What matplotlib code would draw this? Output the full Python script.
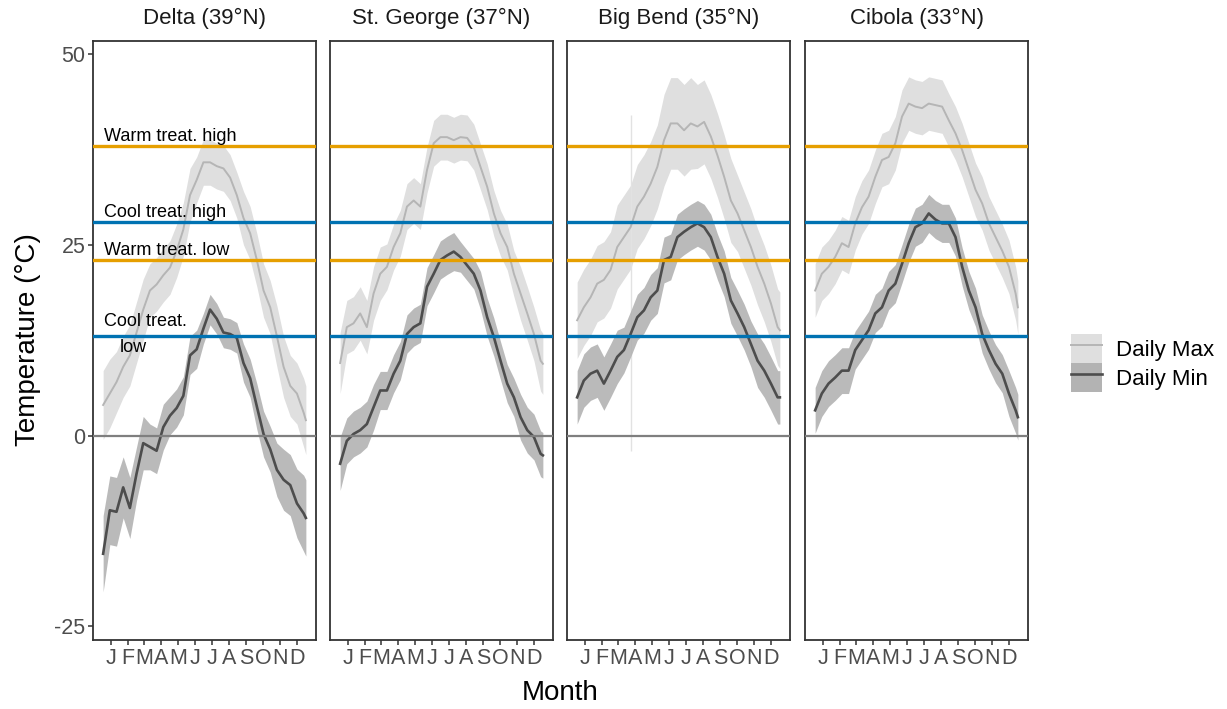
import matplotlib
matplotlib.use("Agg")
import matplotlib.pyplot as plt
from matplotlib.patches import Patch
from matplotlib.lines import Line2D
import numpy as np

plt.rcParams['font.family'] = ['Liberation Sans', 'DejaVu Sans']
plt.rcParams['axes.unicode_minus'] = False

# day of year, every 12 days plus the last day
days = list(range(1, 362, 12)) + [365]

month_days = [15, 46, 74, 105, 135, 166, 196, 227, 258, 288, 319, 349]
month_labels = ["J", "F", "M", "A", "M", "J", "J", "A", "S", "O", "N", "D"]

site_names = ["Delta (39°N)", "St. George (37°N)", "Big Bend (35°N)", "Cibola (33°N)"]

# daily max mean (deg C) and half width of the band
delta_max = [4.0, 5.5, 7.0, 9.0, 10.5, 13.5, 16.5, 19.0, 19.8, 21.0, 22.0, 24.2, 27.0, 31.5, 33.5, 35.8,
             35.8, 35.3, 35.0, 33.8, 31.5, 28.5, 26.5, 23.0, 19.0, 16.8, 13.0, 9.0, 6.5, 5.5, 3.0, 2.0]
delta_max_sd = [4.5, 4.5, 4, 4, 4, 4, 4, 3.5, 3.5, 3.5, 3.5, 3.5, 3.5, 3.5, 3, 3,
                3, 3, 3, 3, 3, 3.5, 3.5, 3.5, 3.5, 3.5, 4, 4, 4, 4, 4.5, 4.5]
delta_min = [-15.5, -9.8, -10.0, -6.8, -9.5, -5.0, -1.0, -1.5, -2.0, 1.1, 2.6, 3.6, 5.2, 10.5, 11.3, 14.0,
             16.5, 15.3, 13.5, 13.3, 12.8, 9.5, 7.5, 3.8, 0.2, -1.8, -4.5, -5.8, -6.5, -8.9, -10.2, -10.8]
delta_min_sd = [5, 4.5, 4.5, 4, 4, 3.5, 3.5, 3, 3, 3, 2.5, 2.5, 2.5, 2.5, 2.5, 2,
                2, 2, 2, 2, 2, 2.5, 2.5, 3, 3, 3, 3.5, 4, 4, 4.5, 5, 5]

stgeorge_max = [9.5, 14.2, 14.7, 16.0, 14.2, 18.6, 21.2, 22.1, 24.7, 26.5, 30.0, 30.8, 30.0, 34.8, 38.3, 39.1,
                39.1, 38.7, 39.1, 39.0, 37.8, 35.2, 32.6, 29.1, 26.5, 24.7, 21.2, 18.6, 16.0, 13.3, 9.8, 9.4]
stgeorge_max_sd = [4, 3.5, 3.5, 3.5, 3.5, 3.5, 3.5, 3, 3, 3, 3, 3, 3, 3, 3, 3,
                   3, 3, 3, 3, 3, 3, 3, 3, 3, 3, 3, 3.5, 3.5, 3.5, 4, 4]
stgeorge_min = [-3.7, -0.7, 0.2, 0.7, 1.5, 3.7, 5.9, 5.9, 8.1, 9.8, 13.3, 14.2, 14.7, 19.5, 21.2, 23.0,
                23.6, 24.1, 23.4, 22.3, 21.2, 19.0, 15.5, 12.9, 9.8, 6.8, 5.0, 2.4, 0.7, -0.2, -2.4, -2.6]
stgeorge_min_sd = [3.5, 3, 3, 3, 3, 3, 2.5, 2.5, 2.5, 2.5, 2.5, 2.5, 2.5, 2.5, 2.5, 2.5,
                   2.5, 2.5, 2, 2, 2, 2.5, 2.5, 2.5, 2.5, 2.5, 2.5, 3, 3, 3, 3, 3]

bigbend_max = [15.1, 16.8, 18.1, 19.9, 20.4, 21.7, 24.7, 26.0, 27.3, 30.0, 31.3, 33.0, 35.2, 38.7, 40.9, 40.9,
               40.0, 40.9, 40.5, 41.1, 39.2, 36.7, 33.9, 30.8, 29.1, 26.9, 24.7, 22.1, 19.9, 17.3, 14.2, 13.8]
bigbend_max_sd = [5, 5, 5, 5, 5, 5, 5.5, 5.5, 5.5, 5.5, 5.5, 5.5, 5.5, 6, 6, 6,
                  6, 6, 5.5, 5.5, 5.5, 5.5, 5.5, 5.5, 5, 5, 5, 5, 5, 5, 5, 5]
bigbend_min = [5.0, 7.2, 8.1, 8.5, 6.8, 8.5, 10.3, 11.2, 13.3, 15.5, 16.4, 18.1, 19.0, 23.0, 23.4, 26.0,
               26.7, 27.3, 27.8, 27.3, 26.0, 23.4, 21.2, 17.7, 16.0, 14.2, 12.0, 9.8, 8.5, 6.8, 5.0, 5.0]
bigbend_min_sd = [3.5, 3.5, 3.5, 3.5, 3.5, 3.5, 3.5, 3, 3, 3, 3, 3, 3, 3, 3, 3,
                  3, 3, 3, 3, 3, 3, 3, 3, 3, 3, 3, 3.5, 3.5, 3.5, 3.5, 3.5]
# one very wide day in the Big Bend record
bigbend_spike_day = [98]
bigbend_spike_lo = [-2.0]
bigbend_spike_hi = [42.0]

cibola_max = [19.0, 21.2, 22.1, 23.4, 25.2, 24.7, 27.8, 29.9, 31.3, 33.9, 36.1, 36.5, 38.3, 41.8, 43.5, 43.1,
              42.9, 43.5, 43.3, 43.1, 41.3, 39.6, 37.4, 34.8, 32.2, 30.4, 27.8, 26.0, 24.2, 22.1, 18.6, 16.8]
cibola_max_sd = [3.5, 3.5, 3.5, 3.5, 3.5, 3.5, 3.5, 3.5, 3.5, 3.5, 3.5, 3.5, 3.5, 3.5, 3.5, 3.5,
                 3.5, 3.5, 3.5, 3.5, 3.5, 3.5, 3.5, 3.5, 3.5, 3.5, 3.5, 3.5, 3.5, 3.5, 3.5, 3.5]
cibola_min = [3.3, 5.5, 6.8, 7.6, 8.5, 8.5, 11.2, 12.5, 13.8, 16.0, 16.8, 19.0, 19.9, 22.5, 25.2, 27.3,
              27.8, 29.1, 28.3, 27.8, 27.8, 26.0, 22.1, 19.0, 16.8, 13.3, 11.2, 9.4, 8.1, 5.5, 3.3, 2.4]
cibola_min_sd = [3, 3, 3, 3, 3, 3, 2.5, 2.5, 2.5, 2.5, 2.5, 2.5, 2.5, 2.5, 2.5, 2.5,
                 2.5, 2.5, 2.5, 2.5, 2.5, 2.5, 2.5, 2.5, 2.5, 2.5, 2.5, 2.5, 2.5, 3, 3, 3]

# treatment set points
treat_temps = [38, 28, 23, 13]
treat_colors = ["#E69F00", "#0072B2", "#E69F00", "#0072B2"]

sites = [
    (delta_max, delta_max_sd, delta_min, delta_min_sd),
    (stgeorge_max, stgeorge_max_sd, stgeorge_min, stgeorge_min_sd),
    (bigbend_max, bigbend_max_sd, bigbend_min, bigbend_min_sd),
    (cibola_max, cibola_max_sd, cibola_min, cibola_min_sd),
]

MAX_FILL = "#DFDFDF"
MAX_LINE = "#B5B5B5"
MIN_FILL = "#B3B3B3"
MIN_LINE = "#4D4D4D"

W, H = 1227, 709
fig = plt.figure(figsize=(W / 100, H / 100), dpi=100)

lefts = [93, 330, 567, 805]
pw = 223
top, bot = 41, 640
axes = []
for i, (mx, mxsd, mn, mnsd) in enumerate(sites):
    ax = fig.add_axes([lefts[i] / W, 1 - bot / H, pw / W, (bot - top) / H])
    axes.append(ax)
    d = np.array(days)
    mx, mxsd, mn, mnsd = map(np.array, (mx, mxsd, mn, mnsd))

    ax.fill_between(d, mx - mxsd, mx + mxsd, color=MAX_FILL, lw=0, zorder=1)
    ax.fill_between(d, mn - mnsd, mn + mnsd, color=MIN_FILL, lw=0, alpha=0.9, zorder=2)
    if i == 2:
        ax.vlines(bigbend_spike_day, bigbend_spike_lo, bigbend_spike_hi, color="#E2E2E2", lw=1.0, zorder=1.5)
    ax.plot(d, mx, color=MAX_LINE, lw=1.4, zorder=3)
    ax.plot(d, mn, color=MIN_LINE, lw=1.9, zorder=3)

    ax.axhline(0, color="#7F7F7F", lw=1.6, zorder=4)
    for t, c in zip(treat_temps, treat_colors):
        ax.axhline(t, color=c, lw=2.4, zorder=5)

    ax.set_xlim(-17.2, 383.2)
    ax.set_ylim(-26.8, 51.7)
    ax.set_xticks(month_days)
    ax.set_xticklabels(month_labels)
    ax.set_yticks([-25, 0, 25, 50])
    ax.tick_params(axis="both", length=3.5, width=1.1, color="#333333",
                   labelcolor="#4D4D4D", labelsize=15.5, pad=2)
    if i > 0:
        ax.tick_params(axis="y", left=False, labelleft=False)
    for s in ax.spines.values():
        s.set_color("#333333")
        s.set_linewidth(1.3)
    ax.text(0.5, 1.038, site_names[i], transform=ax.transAxes, ha="center", va="center",
            fontsize=16, color="#1A1A1A")

# treatment labels in the first panel
a0 = axes[0]
a0.text(2, 38.6, "Warm treat. high", fontsize=13, ha="left", va="baseline", zorder=6)
a0.text(2, 28.6, "Cool treat. high", fontsize=13, ha="left", va="baseline", zorder=6)
a0.text(2, 23.6, "Warm treat. low", fontsize=13, ha="left", va="baseline", zorder=6)
a0.text(2, 14.4, "Cool treat.", fontsize=13, ha="left", va="baseline", zorder=6)
a0.text(31, 10.9, "low", fontsize=13, ha="left", va="baseline", zorder=6)

fig.text(560 / W, 1 - 693 / H, "Month", ha="center", va="center", fontsize=20)
fig.text(28 / W, 1 - 340 / H, "Temperature (°C)", ha="center", va="center", fontsize=20, rotation=90)

handles = [(Patch(facecolor=MAX_FILL, edgecolor="none"), Line2D([], [], color=MAX_LINE, lw=1.4)),
           (Patch(facecolor=MIN_FILL, edgecolor="none"), Line2D([], [], color=MIN_LINE, lw=1.9))]
fig.legend(handles, ["Daily Max", "Daily Min"], loc="center left",
           bbox_to_anchor=(1053 / W, 1 - 363 / H), frameon=False, fontsize=16,
           handlelength=1.4, handleheight=1.6, labelspacing=0.02, handletextpad=0.65,
           borderpad=0.3)

fig.savefig("out.png", dpi=100)
